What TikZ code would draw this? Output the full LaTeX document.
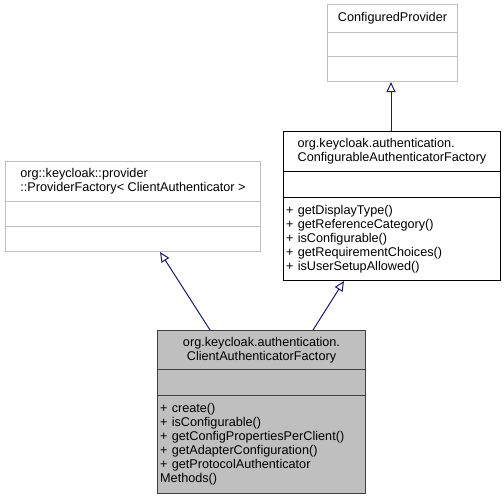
\documentclass[tikz,border=0pt]{standalone}
\usepackage{fontspec}
\setmainfont{Liberation Sans}
\usetikzlibrary{arrows.meta,calc}
\definecolor{edgeblue}{HTML}{191970}
\definecolor{boxgray}{HTML}{BFBFBF}
\definecolor{darkline}{HTML}{404040}
\begin{document}
\begin{tikzpicture}[x=0.75pt,y=-0.75pt,->,>={Triangle[open,length=7.5pt,width=6.75pt]}]
	\fontsize{9.5}{10.5}\selectfont
	\tikzstyle{part}=[rectangle,anchor=north west,inner xsep=2pt,inner ysep=0pt,line width=0.75pt]
	\tikzstyle{gpart}=[part,draw=boxgray,fill=white]
	\tikzstyle{bpart}=[part,draw=black,fill=white]
	\tikzstyle{cpart}=[part,draw=darkline,fill=boxgray]
	\tikzstyle{inherit}=[draw=edgeblue,line width=0.75pt]

	\useasboundingbox (0,0) rectangle (504,500);

	% ConfiguredProvider
	\node[gpart,minimum width=97.5pt,minimum height=21pt,align=center] 	(cpTitle)	at (327,4)	{ConfiguredProvider};
	\node[gpart,minimum width=97.5pt,minimum height=18pt] 	(cpAttr)	at (327,32)	{};
	\node[gpart,minimum width=97.5pt,minimum height=18.75pt] 	(cpOps)	at (327,56)	{};

	% ProviderFactory< ClientAuthenticator >
	\node[gpart,minimum width=191.25pt,minimum height=30pt,align=left] 	(pfTitle)	at (5,161)	{org::keycloak::provider\\::ProviderFactory< ClientAuthenticator >};
	\node[gpart,minimum width=191.25pt,minimum height=18.75pt] 	(pfAttr)	at (5,201)	{};
	\node[gpart,minimum width=191.25pt,minimum height=18.75pt] 	(pfOps)	at (5,226)	{};

	% ConfigurableAuthenticatorFactory
	\node[bpart,minimum width=162.75pt,minimum height=30pt,align=left] 	(cafTitle)	at (283,131)	{org.keycloak.authentication.\\ConfigurableAuthenticatorFactory};
	\node[bpart,minimum width=162.75pt,minimum height=19.5pt] 	(cafAttr)	at (283,171)	{};
	\node[bpart,minimum height=62.25pt,text width=158.75pt,align=left] 	(cafOps)	at (283,197)	{+ getDisplayType()\\+ getReferenceCategory()\\+ isConfigurable()\\+ getRequirementChoices()\\+ isUserSetupAllowed()};

	% ClientAuthenticatorFactory
	\node[cpart,minimum width=156pt,minimum height=29.25pt,align=center] 	(clTitle)	at (157,330)	{org.keycloak.authentication.\\ClientAuthenticatorFactory};
	\node[cpart,minimum width=156pt,minimum height=19.5pt] 	(clAttr)	at (157,369)	{};
	\node[cpart,minimum height=73.5pt,text width=152pt,align=left] 	(clOps)	at (157,395)	{+ create()\\+ isConfigurable()\\+ getConfigPropertiesPerClient()\\+ getAdapterConfiguration()\\+ getProtocolAuthenticator\\Methods()};

	% generalisations
	\draw[inherit] ($(clTitle.north west)+(53,0)$) -- ($(pfOps.south west)+(155,0)$);
	\draw[inherit] ($(clTitle.north west)+(156,0)$) -- ($(cafOps.south west)+(61,0)$);
	\draw[inherit] ($(cafTitle.north west)+(108,0)$) -- ($(cpOps.south west)+(64,0)$);
\end{tikzpicture}
\end{document}
